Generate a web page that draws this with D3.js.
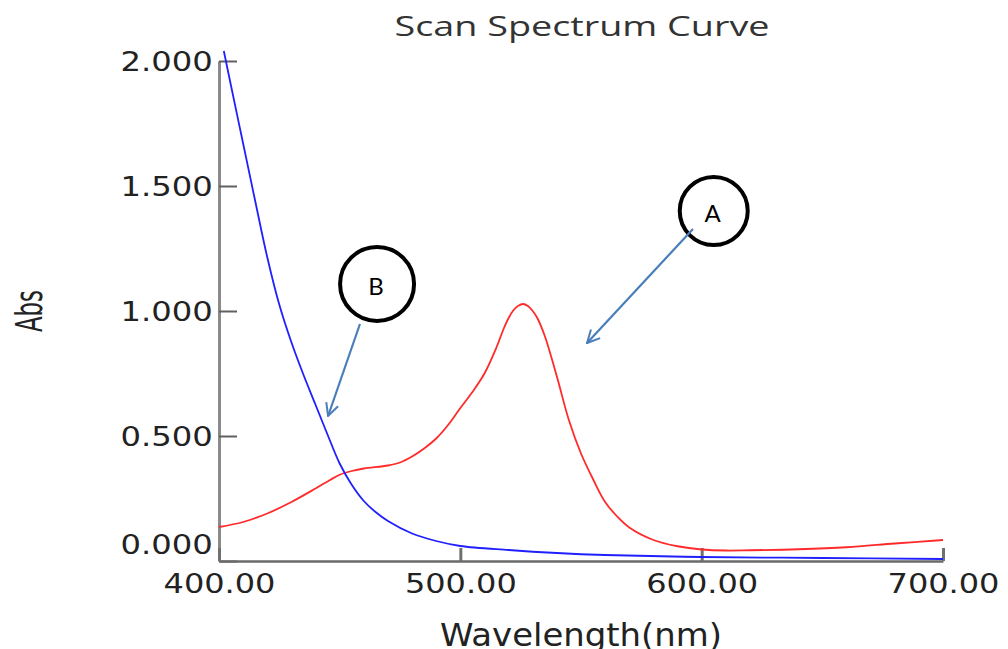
<!DOCTYPE html>
<html>
<head>
<meta charset="utf-8">
<script src="https://cdn.jsdelivr.net/npm/d3@7"></script>
<style>
  body { margin: 0; background: #fff; }
</style>
</head>
<body>
<script>
// curve A (red)
var redNm  = [400, 410, 420, 430, 440, 446, 450, 455, 460, 470, 475, 480, 485, 490, 495, 500, 505, 510, 515, 518, 520, 522, 524, 526, 528, 530, 532, 535, 540, 545, 550, 555, 560, 565, 570, 580, 590, 600, 610, 620, 640, 660, 680, 700];
var redAbs = [0.136, 0.156, 0.19, 0.236, 0.29, 0.324, 0.345, 0.36, 0.37, 0.382, 0.394, 0.418, 0.45, 0.49, 0.545, 0.612, 0.676, 0.75, 0.855, 0.93, 0.972, 1.003, 1.021, 1.028, 1.02, 1.0, 0.97, 0.9, 0.738, 0.563, 0.43, 0.327, 0.236, 0.178, 0.134, 0.084, 0.059, 0.046, 0.042, 0.043, 0.047, 0.055, 0.07, 0.084];

// curve B (blue)
var blueNm  = [402, 405, 410, 415, 420, 425, 430, 435, 440, 445, 450, 455, 460, 465, 470, 480, 490, 500, 520, 540, 560, 600, 650, 700];
var blueAbs = [2.04, 1.90, 1.67, 1.44, 1.215, 1.025, 0.875, 0.745, 0.625, 0.505, 0.39, 0.305, 0.24, 0.195, 0.16, 0.11, 0.08, 0.06, 0.044, 0.032, 0.024, 0.016, 0.012, 0.008];

var xTicks = [400, 500, 600, 700];
var yTicks = [0, 0.5, 1.0, 1.5, 2.0];

// annotation labels: circle centre and arrow (data units)
var noteLabels = ["A", "B"];
var noteCenter = [[605, 1.40], [465.5, 1.108]];
var noteArrowFrom = [[596.4, 1.328], [458.4, 0.948]];
var noteArrowTo = [[552.5, 0.872], [445.2, 0.58]];
var noteRadius = [34, 37];

var width = 1008, height = 649;
var margin = {top: 61, right: 65, bottom: 88, left: 219};

var svg = d3.select("body").append("svg")
    .attr("width", width)
    .attr("height", height);

var x = d3.scaleLinear().domain([400, 700]).range([margin.left, width - margin.right]);
var y = d3.scaleLinear().domain([0, 2]).range([height - margin.bottom, margin.top]);

// title
svg.append("text")
    .attr("x", 582).attr("y", 36)
    .attr("text-anchor", "middle")
    .attr("textLength", 375).attr("lengthAdjust", "spacingAndGlyphs")
    .style("font-family", "'Open Sans', 'DejaVu Sans', sans-serif")
    .style("font-size", "27px")
    .style("fill", "#333")
    .text("Scan Spectrum Curve");

// y axis
var yAxis = svg.append("g")
    .attr("transform", "translate(" + margin.left + ",0)")
    .call(d3.axisLeft(y).tickValues(yTicks).tickFormat(d3.format(".3f"))
        .tickSize(-18).tickSizeOuter(0).tickPadding(5));
yAxis.select(".domain").attr("stroke", "#8a8a8a").attr("stroke-width", 3);
yAxis.selectAll(".tick line").attr("stroke", "#606060").attr("stroke-width", 2);
yAxis.selectAll(".tick text")
    .attr("transform", "scale(1.24,1)")
    .attr("dy", function (d) { return d === 0 ? "-0.3em" : "0.36em"; })
    .style("font-family", "'DejaVu Sans', sans-serif")
    .style("font-size", "26px")
    .style("fill", "#222");

// x axis
var xAxis = svg.append("g")
    .attr("transform", "translate(0," + (height - margin.bottom) + ")")
    .call(d3.axisBottom(x).tickValues(xTicks).tickFormat(d3.format(".2f"))
        .tickSize(-13).tickSizeOuter(0));
xAxis.select(".domain").attr("stroke", "#6a6a6a").attr("stroke-width", 2.5);
xAxis.selectAll(".tick line").attr("stroke", "#707070").attr("stroke-width", 3);
xAxis.selectAll(".tick text")
    .attr("transform", "scale(1.23,1)")
    .attr("y", 32).attr("dy", null)
    .style("font-family", "'DejaVu Sans', sans-serif")
    .style("font-size", "26px")
    .style("fill", "#222");

// axis titles
svg.append("text")
    .attr("x", 581).attr("y", 646)
    .attr("text-anchor", "middle")
    .attr("textLength", 282).attr("lengthAdjust", "spacingAndGlyphs")
    .style("font-family", "'DejaVu Sans', sans-serif")
    .style("font-size", "32px")
    .style("fill", "#222")
    .text("Wavelength(nm)");

svg.append("text")
    .attr("transform", "translate(42,311) rotate(-90)")
    .attr("text-anchor", "middle")
    .attr("textLength", 42).attr("lengthAdjust", "spacingAndGlyphs")
    .style("font-family", "'DejaVu Sans', sans-serif")
    .style("font-size", "38px")
    .style("fill", "#222")
    .text("Abs");

// curves
var line = d3.line()
    .x(function (d) { return x(d[0]); })
    .y(function (d) { return y(d[1]); })
    .curve(d3.curveCatmullRom.alpha(0.5));

svg.append("path")
    .datum(redNm.map(function (v, i) { return [v, redAbs[i]]; }))
    .attr("d", line)
    .attr("fill", "none")
    .attr("stroke", "#ff2a2a")
    .attr("stroke-width", 1.8);

svg.append("path")
    .datum(blueNm.map(function (v, i) { return [v, blueAbs[i]]; }))
    .attr("d", line)
    .attr("fill", "none")
    .attr("stroke", "#2020ff")
    .attr("stroke-width", 1.8);

// annotations
svg.append("defs").append("marker")
    .attr("id", "openArrow")
    .attr("viewBox", "0 0 12 12")
    .attr("refX", 11).attr("refY", 6)
    .attr("markerWidth", 15).attr("markerHeight", 15)
    .attr("markerUnits", "userSpaceOnUse")
    .attr("orient", "auto")
    .append("path")
    .attr("d", "M1,1 L11,6 L1,11")
    .attr("fill", "none")
    .attr("stroke", "#4a7ebb")
    .attr("stroke-width", 1.6);

noteLabels.forEach(function (lab, i) {
    svg.append("circle")
        .attr("cx", x(noteCenter[i][0]))
        .attr("cy", y(noteCenter[i][1]))
        .attr("r", noteRadius[i])
        .attr("fill", "none")
        .attr("stroke", "#000")
        .attr("stroke-width", 4);
    svg.append("text")
        .attr("x", x(noteCenter[i][0]) - 1)
        .attr("y", y(noteCenter[i][1]) + 3)
        .attr("dy", "0.35em")
        .attr("text-anchor", "middle")
        .style("font-family", "Lato, 'Liberation Sans', sans-serif")
        .style("font-size", "24px")
        .style("fill", "#000")
        .text(lab);
    svg.append("line")
        .attr("x1", x(noteArrowFrom[i][0]))
        .attr("y1", y(noteArrowFrom[i][1]))
        .attr("x2", x(noteArrowTo[i][0]))
        .attr("y2", y(noteArrowTo[i][1]))
        .attr("stroke", "#4a7ebb")
        .attr("stroke-width", 2.2)
        .attr("marker-end", "url(#openArrow)");
});
</script>
</body>
</html>
